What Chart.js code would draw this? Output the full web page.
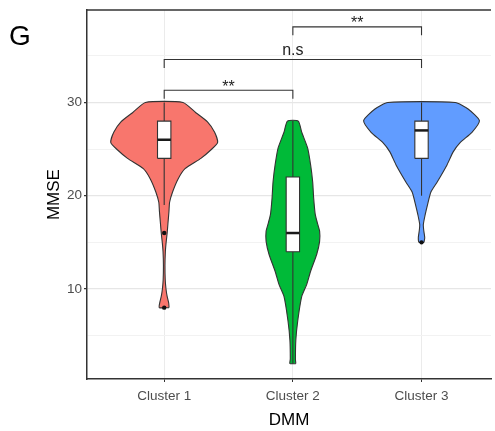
<!DOCTYPE html>
<html lang="en">
<head>
  <meta charset="UTF-8" />
  <title>MMSE by DMM cluster</title>
  <script src="https://cdn.jsdelivr.net/npm/chart.js@4/dist/chart.umd.min.js"></script>
  <style>
    html, body { margin: 0; padding: 0; background: #fff; overflow: hidden; }
    canvas { display: block; }
  </style>
</head>
<body>
  <canvas id="violin" width="495" height="431"></canvas>
  <script>
    // Categories and colours
    const clusters = ['Cluster 1', 'Cluster 2', 'Cluster 3'];
    const fills = ['#F8766D', '#00BA38', '#619CFF'];

    // Violin outlines: MMSE values and half widths (in category units)
    const violinY = [
      [8, 8.5, 9.2, 10, 11, 12.5, 14, 15, 16, 17, 18.3, 19.3, 20.4, 21.8, 22.9, 24, 24.9, 25.7, 26.8, 27.9, 28.9, 30],
      [2, 2.5, 4.5, 6.6, 9.2, 10.5, 11.9, 13.7, 15.1, 16.2, 17, 18, 19.7, 21.5, 23.3, 25.1, 26.8, 28],
      [15, 15.5, 16.2, 16.9, 18, 19, 20.4, 21.5, 23.3, 24.7, 25.7, 26.8, 28.05, 29.3, 30]
    ];
    const violinW = [
      [0.038, 0.035, 0.023, 0.014, 0.008, 0.006, 0.009, 0.015, 0.023, 0.029, 0.037, 0.042, 0.065, 0.108, 0.162, 0.285, 0.362, 0.415, 0.392, 0.338, 0.246, 0.146],
      [0.023, 0.02, 0.023, 0.038, 0.069, 0.108, 0.138, 0.185, 0.208, 0.208, 0.192, 0.174, 0.162, 0.154, 0.138, 0.115, 0.069, 0.042],
      [0.019, 0.025, 0.018, 0.014, 0.029, 0.046, 0.073, 0.123, 0.198, 0.246, 0.3, 0.392, 0.45, 0.362, 0.262]
    ];

    // Box plot summaries
    const boxMin = [19, 2, 20];
    const boxQ1 = [24, 14, 24];
    const boxMedian = [26, 16, 27];
    const boxQ3 = [28, 22, 28];
    const boxMax = [30, 28, 30];
    const outliers = [[16, 8], [], [15]];

    // Y tick labels
    const yMajor = [10, 20, 30];
    const yMinor = [5, 15, 25, 35];

    // Significance brackets
    const sigPairs = [[1, 2], [1, 3], [2, 3]];
    const sigLabels = ['**', 'n.s', '**'];
    const sigY = [31.3, 34.6, 38.1];
    const sigTip = 0.9;

    const boxHalf = 0.052;
    const edge = '#333333';
    const fontFamily = '"Liberation Sans", Arial, Helvetica, sans-serif';

    const datasets = [];

    clusters.forEach((name, i) => {
      const c = i + 1;
      const ys = violinY[i], ws = violinW[i];
      const pts = [];
      for (let k = 0; k < ys.length; k++) pts.push({ x: c + ws[k], y: ys[k] });
      for (let k = ys.length - 1; k >= 0; k--) pts.push({ x: c - ws[k], y: ys[k] });
      pts.push(pts[0]);
      datasets.push({
        label: name, data: pts, order: 6,
        borderColor: edge, borderWidth: 1.1, backgroundColor: fills[i],
        fill: 'shape', pointRadius: 0, tension: 0.2
      });
      // whisker
      datasets.push({
        data: [{ x: c, y: boxMin[i] }, { x: c, y: boxMax[i] }], order: 5,
        borderColor: edge, borderWidth: 1.1, pointRadius: 0, fill: false
      });
      // box
      datasets.push({
        data: [
          { x: c - boxHalf, y: boxQ1[i] }, { x: c + boxHalf, y: boxQ1[i] },
          { x: c + boxHalf, y: boxQ3[i] }, { x: c - boxHalf, y: boxQ3[i] },
          { x: c - boxHalf, y: boxQ1[i] }
        ],
        order: 4, borderColor: edge, borderWidth: 1.1, backgroundColor: '#ffffff',
        fill: 'shape', pointRadius: 0
      });
      // median
      datasets.push({
        data: [{ x: c - boxHalf, y: boxMedian[i] }, { x: c + boxHalf, y: boxMedian[i] }],
        order: 3, borderColor: '#1a1a1a', borderWidth: 2.5, pointRadius: 0, fill: false
      });
      // outliers
      if (outliers[i].length) {
        datasets.push({
          data: outliers[i].map(v => ({ x: c, y: v })), order: 2, showLine: false,
          pointRadius: 2.2, pointBackgroundColor: '#111', pointBorderWidth: 0
        });
      }
    });

    sigPairs.forEach((p, i) => {
      datasets.push({
        data: [
          { x: p[0], y: sigY[i] - sigTip }, { x: p[0], y: sigY[i] },
          { x: p[1], y: sigY[i] }, { x: p[1], y: sigY[i] - sigTip }
        ],
        order: 1, borderColor: edge, borderWidth: 1.1, pointRadius: 0, fill: false
      });
    });

    const annotate = {
      id: 'annotate',
      afterDraw(chart) {
        const { ctx, chartArea: a, scales: { x, y } } = chart;
        ctx.save();
        ctx.strokeStyle = edge;
        ctx.lineWidth = 1.5;
        ctx.beginPath();
        ctx.moveTo(a.left, a.top);
        ctx.lineTo(a.right, a.top);
        ctx.stroke();

        ctx.fillStyle = '#222';
        ctx.font = '16px ' + fontFamily;
        ctx.textAlign = 'center';
        ctx.textBaseline = 'alphabetic';
        sigPairs.forEach((p, i) => {
          const m = ctx.measureText(sigLabels[i]);
          const px = x.getPixelForValue((p[0] + p[1]) / 2);
          const py = y.getPixelForValue(sigY[i]) - 4.5 - m.actualBoundingBoxDescent;
          ctx.fillText(sigLabels[i], px, py);
        });

        ctx.fillStyle = '#000';
        ctx.font = '28px ' + fontFamily;
        ctx.textAlign = 'left';
        ctx.fillText('G', 9, 45);
        ctx.restore();
      }
    };

    new Chart(document.getElementById('violin'), {
      type: 'line',
      data: { datasets },
      options: {
        responsive: false,
        animation: false,
        devicePixelRatio: 1,
        layout: { padding: { top: 7, left: 0, right: 0, bottom: 0 } },
        plugins: { legend: { display: false }, tooltip: { enabled: false } },
        scales: {
          x: {
            type: 'linear', min: 0.4, max: 3.54,
            afterBuildTicks: s => { s.ticks = clusters.map((_, i) => ({ value: i + 1 })); },
            afterFit: s => { s.height = 52; },
            ticks: {
              callback: v => clusters[v - 1] || '',
              color: '#4D4D4D', font: { family: fontFamily, size: 13.5 },
              padding: 6, maxRotation: 0, autoSkip: false
            },
            grid: { color: '#EBEBEB', lineWidth: 1, tickColor: edge, tickLength: 3 },
            border: { color: edge, width: 1.5 },
            title: {
              display: true, text: 'DMM', color: '#000',
              font: { family: fontFamily, size: 17 }, padding: { top: 0, bottom: 0 }
            }
          },
          y: {
            min: 0.35, max: 39.9,
            afterBuildTicks: s => {
              s.ticks = yMinor.concat(yMajor).sort((a, b) => a - b).map(v => ({ value: v }));
            },
            afterFit: s => { s.width = 87; },
            ticks: {
              callback: v => yMajor.includes(v) ? String(v) : '',
              color: '#4D4D4D', font: { family: fontFamily, size: 13.5 },
              padding: 2, autoSkip: false
            },
            grid: {
              color: c => yMajor.includes(c.tick.value) ? '#E6E6E6' : '#F2F2F2',
              lineWidth: c => yMajor.includes(c.tick.value) ? 1.2 : 1,
              tickColor: c => yMajor.includes(c.tick.value) ? edge : 'rgba(0,0,0,0)',
              tickLength: 3
            },
            border: { color: edge, width: 1.5 },
            title: {
              display: true, text: 'MMSE', color: '#000',
              font: { family: fontFamily, size: 17 }, padding: { top: 44, bottom: 0 }
            }
          }
        }
      },
      plugins: [annotate]
    });
  </script>
</body>
</html>
